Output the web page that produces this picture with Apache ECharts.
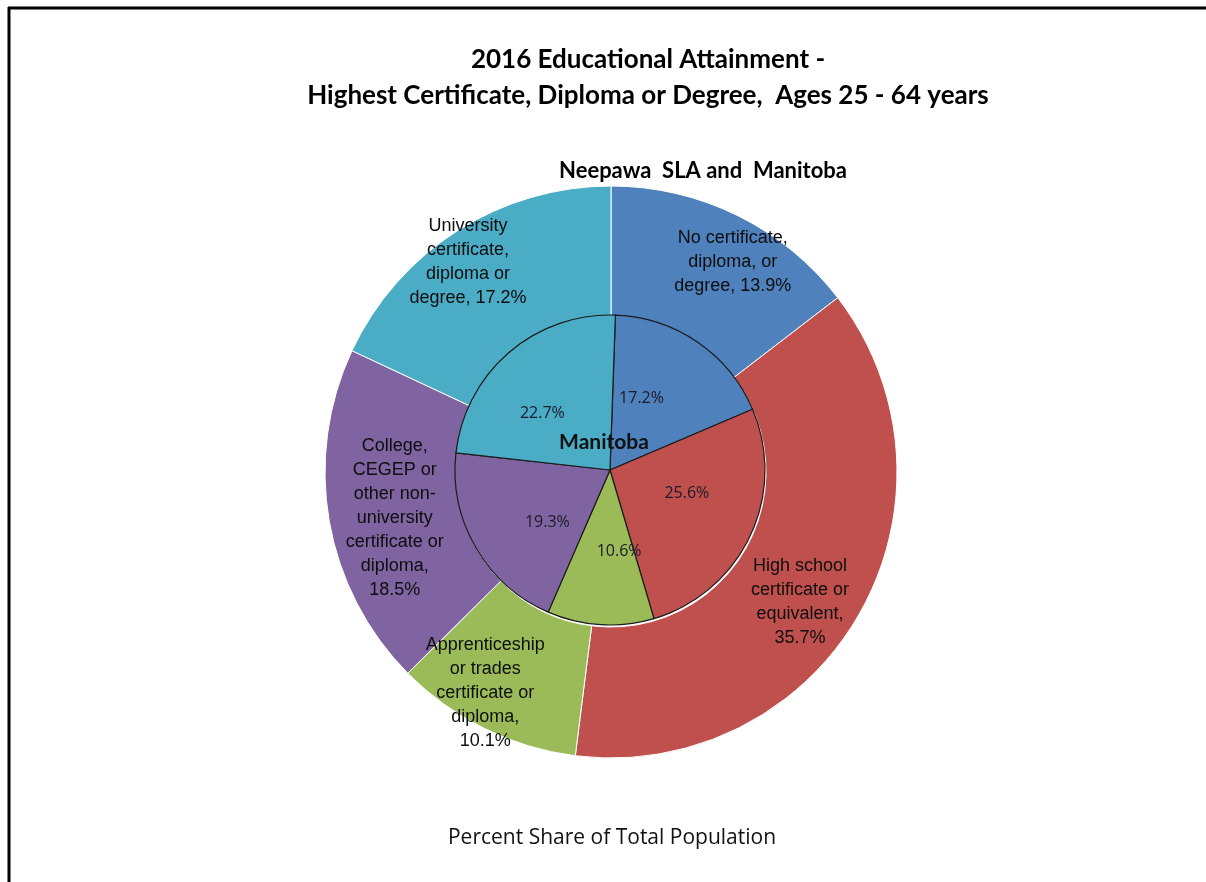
<!DOCTYPE html>
<html>
<head>
<meta charset="utf-8">
<script src="https://cdn.jsdelivr.net/npm/echarts@6/dist/echarts.min.js"></script>
<style>
  html, body { margin: 0; padding: 0; background: #fff; }
  #chart { width: 1206px; height: 882px; }
</style>
</head>
<body>
<div id="chart"></div>
<script>
// Educational attainment categories, clockwise from 12 o'clock
const categories = [
  'No certificate, diploma, or degree',
  'High school certificate or equivalent',
  'Apprenticeship or trades certificate or diploma',
  'College, CEGEP or other non-university certificate or diploma',
  'University certificate, diploma or degree'
];
// Wrapped text used in the outer ring labels (value is appended)
const outerLabelText = [
  'No certificate,\ndiploma, or\ndegree, ',
  'High school\ncertificate or\nequivalent,\n',
  'Apprenticeship\nor trades\ncertificate or\ndiploma,\n',
  'College,\nCEGEP or\nother non-\nuniversity\ncertificate or\ndiploma,\n',
  'University\ncertificate,\ndiploma or\ndegree, '
];
// Percent share of population aged 25-64
const neepawaValues = [13.9, 35.7, 10.1, 18.5, 17.2];
const manitobaValues = [17.2, 25.6, 10.6, 19.3, 22.7];

const colors = ['#4F81BD', '#C0504D', '#9BBB59', '#8064A2', '#4BACC6'];

// Label nudges (px) from the default in-slice position
const outerLabelShift = [[23, -9], [-5, 19], [-27, 21], [4, 8], [-23, -21]];
const innerLabelShift = [[-14, -5], [4, -11], [14, 1], [7, 12], [-15, 4]];

const calibriLike = 'Lato, "Open Sans", sans-serif';

const chart = echarts.init(document.getElementById('chart'), null, { renderer: 'canvas' });

const outerData = categories.map((name, i) => ({
  name: name,
  value: neepawaValues[i],
  itemStyle: { color: colors[i] },
  label: { offset: outerLabelShift[i] }
}));
const innerData = categories.map((name, i) => ({
  name: name,
  value: manitobaValues[i],
  itemStyle: { color: colors[i] },
  label: { offset: innerLabelShift[i] }
}));

chart.setOption({
  backgroundColor: '#ffffff',
  animation: false,
  graphic: [
    { type: 'line', shape: { x1: 8, y1: 8, x2: 1206, y2: 8 }, style: { stroke: '#000', lineWidth: 3 } },
    { type: 'line', shape: { x1: 9, y1: 7, x2: 9, y2: 882 }, style: { stroke: '#000', lineWidth: 3 } },
    { type: 'text', x: 648, y: 60, style: { text: '2016 Educational Attainment -', fontFamily: calibriLike, fontWeight: 'bold', fontSize: 26, fill: '#000', align: 'center', verticalAlign: 'middle' } },
    { type: 'text', x: 648, y: 96, style: { text: 'Highest Certificate, Diploma or Degree,  Ages 25 - 64 years', fontFamily: calibriLike, fontWeight: 'bold', fontSize: 26, fill: '#000', align: 'center', verticalAlign: 'middle' } },
    { type: 'text', x: 703, y: 171, style: { text: 'Neepawa  SLA and  Manitoba', fontFamily: calibriLike, fontWeight: 'bold', fontSize: 22, fill: '#000', align: 'center', verticalAlign: 'middle' } },
    { type: 'text', x: 612, y: 838, style: { text: 'Percent Share of Total Population', fontFamily: '"Open Sans", sans-serif', fontSize: 21, fill: '#111', align: 'center', verticalAlign: 'middle' } },
    { type: 'text', x: 604, y: 442, z: 100, style: { text: 'Manitoba', fontFamily: calibriLike, fontWeight: 'bold', fontSize: 21, fill: '#111', align: 'center', verticalAlign: 'middle' } }
  ],
  series: [
    {
      name: 'Neepawa SLA',
      type: 'pie',
      center: [611, 472],
      radius: [155, 286],
      startAngle: 90,
      clockwise: true,
      avoidLabelOverlap: false,
      silent: true,
      itemStyle: { borderColor: '#ffffff', borderWidth: 1 },
      label: {
        show: true,
        position: 'inside',
        color: '#0d0d0d',
        fontFamily: '"Liberation Sans", Arial, sans-serif',
        fontSize: 18,
        lineHeight: 24,
        align: 'center',
        formatter: (p) => outerLabelText[p.dataIndex] + p.value.toFixed(1) + '%'
      },
      labelLine: { show: false },
      data: outerData,
      z: 2
    },
    {
      name: 'Manitoba',
      type: 'pie',
      center: [610, 470],
      radius: [0, 155],
      startAngle: 88,
      clockwise: true,
      avoidLabelOverlap: false,
      silent: true,
      itemStyle: { borderColor: '#1a1a1a', borderWidth: 1.2 },
      label: {
        show: true,
        position: 'inside',
        color: '#1a1a2a',
        fontFamily: '"Open Sans", sans-serif',
        fontSize: 16,
        formatter: (p) => p.value.toFixed(1) + '%'
      },
      labelLine: { show: false },
      data: innerData,
      z: 3
    }
  ]
});
</script>
</body>
</html>
